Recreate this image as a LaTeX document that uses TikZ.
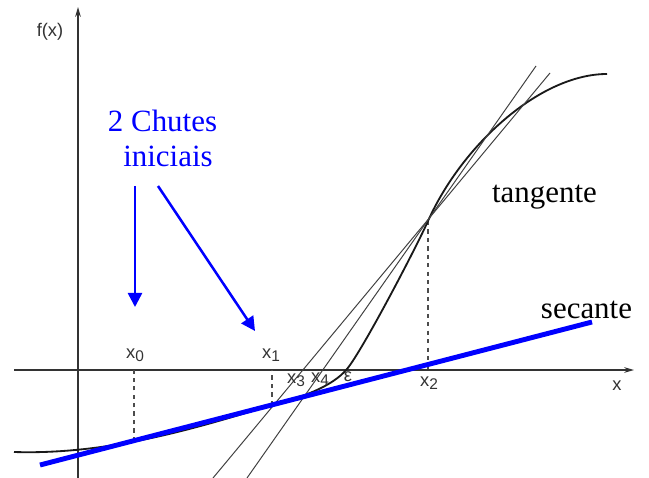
\documentclass[tikz,border=0pt]{standalone}
\usepackage{fontspec}
\setmainfont{Liberation Serif}
\setsansfont{Liberation Sans}
\usetikzlibrary{arrows.meta,calc}

\tikzset{
  axis/.style={line width=1pt,black!80,-{Stealth[length=7pt,width=4pt]}},
  guide/.style={line width=0.8pt,black!70,dash pattern=on 3pt off 3pt},
  fcurve/.style={line width=1.3pt,black!90},
  chord/.style={line width=0.7pt,black!75},
  secline/.style={blue,line width=3.5pt},
  hint/.style={blue,line width=1.8pt,-{Triangle[length=10pt,width=10pt]}},
  lbl/.style={font=\sffamily\fontsize{13}{15}\selectfont,text=black!80,inner sep=0pt},
  big/.style={font=\fontsize{22}{26}\selectfont,inner sep=0pt,anchor=base},
}
\newcommand{\sx}[1]{x\raisebox{-0.35ex}{\fontsize{11}{12}\selectfont #1}}

\begin{document}
\begin{tikzpicture}[x=0.025cm,y=-0.025cm]
    \useasboundingbox (0,0) rectangle (649,478);

    % Points on the curve
    \coordinate (O)  at (78,370);
    \coordinate (P0) at (134,441);
    \coordinate (P1) at (272,405);
    \coordinate (P2) at (428,221);
    \coordinate (E)  at (347,369);

    % Axes
    \draw[axis] (14,370) -- (634,370);
    \draw[axis] (78,478) -- (78,7);
    \node[lbl] (fx)   at (50,32)  {f(x)};
    \node[lbl] (xlab) at (617,386) {x};

    % Dashed guides
    \draw[guide] (P0) -- (P0 |- O);
    \draw[guide] (P1) -- (P1 |- O);
    \draw[guide] (P2) -- (P2 |- O);

    % Function
    \draw[fcurve] (14,452) .. controls (110,455) and (200,427) .. (P1)
      .. controls (300,398) and (332,387) .. (E)
      .. controls (362,351) and (415,250) .. (P2)
      .. controls (462,145) and (540,74) .. (607,74);

    % Later secants
    \coordinate (A1) at (213,478);
    \coordinate (A2) at (550,73);
    \coordinate (B1) at (247,478);
    \coordinate (B2) at (536,66);
    \draw[chord] (A1) -- (A2);
    \draw[chord] (B1) -- (B2);

    % First secant
    \coordinate (S1) at (40,465);
    \coordinate (S2) at (592,322);
    \draw[secline] (S1) -- (S2);

    % Iterate labels
    \node[lbl] (x0lab) at (135,355) {\sx{0}};
    \node[lbl] (x1lab) at (271,355) {\sx{1}};
    \node[lbl] (x2lab) at (429,383) {\sx{2}};
    \node[lbl] (x3lab) at (296,380) {\sx{3}};
    \node[lbl] (x4lab) at (320,379) {\sx{4}};
    \node[lbl] (eps)   at (348,377) {ε};

    % Annotations
    \node[big,blue] (chutes) at (162.5,132) {2 Chutes};
    \node[big,blue] (inic)   at (168,167)   {iniciais};
    \node[big] (tang) at (544.5,203) {tangente};
    \node[big] (sec)  at (586.5,318) {secante};

    \coordinate (h0) at (135,186);
    \coordinate (t0) at (135,307);
    \coordinate (h1) at (158,186);
    \coordinate (t1) at (255,331);
    \draw[hint] (h0) -- (t0);
    \draw[hint] (h1) -- (t1);
\end{tikzpicture}
\end{document}
